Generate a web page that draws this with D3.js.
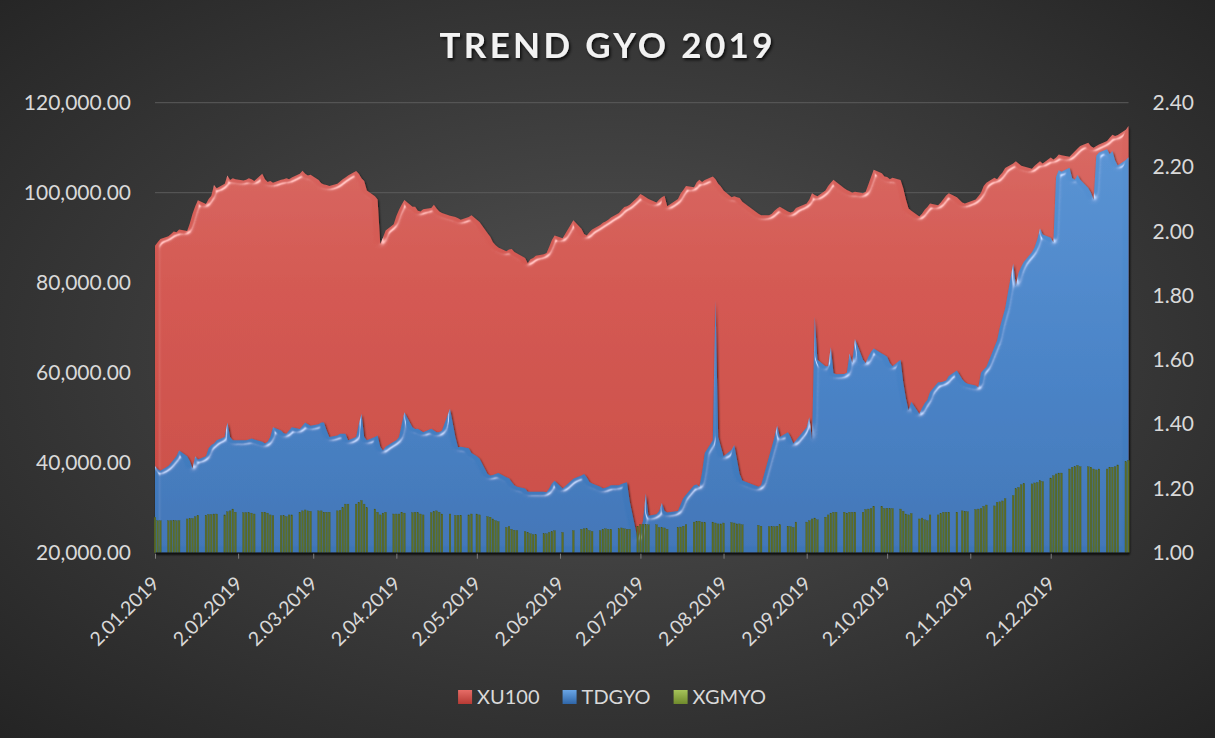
<!DOCTYPE html>
<html>
<head>
<meta charset="utf-8">
<script src="https://cdn.jsdelivr.net/npm/d3@7"></script>
<style>
  html, body { margin: 0; padding: 0; background: #2a2a2a; }
  svg { display: block; font-family: Lato, "Open Sans", sans-serif; }
</style>
</head>
<body>
<div id="chart"></div>
<script>

// Data ----------------------------------------------------------------------

// trading days of 2019, one list per month
var tradingDays = [
  [2,3,4,7,8,9,10,11,14,15,16,17,18,21,22,23,24,25,28,29,30,31],
  [1,4,5,6,7,8,11,12,13,14,15,18,19,20,21,22,25,26,27,28],
  [1,4,5,6,7,8,11,12,13,14,15,18,19,20,21,22,25,26,27,28,29],
  [1,2,3,4,5,8,9,10,11,12,15,16,17,18,19,22,24,25,26,29,30],
  [2,3,6,7,8,9,10,13,14,15,16,17,20,21,22,23,24,27,28,29,30,31],
  [3,7,10,11,12,13,14,17,18,19,20,21,24,25,26,27,28],
  [1,2,3,4,5,8,9,10,11,12,16,17,18,19,22,23,24,25,26,29,30,31],
  [1,2,5,6,7,8,9,15,16,19,20,21,22,23,26,27,28,29],
  [2,3,4,5,6,9,10,11,12,13,16,17,18,19,20,23,24,25,26,27,30],
  [1,2,3,4,7,8,9,10,11,14,15,16,17,18,21,22,23,24,25,28,30,31],
  [1,4,5,6,7,8,11,12,13,14,15,18,19,20,21,22,25,26,27,28,29],
  [2,3,4,5,6,9,10,11,12,13,16,17,18,19,20,23,24,25,26,27,30,31]
];

var seriesNames = ["XU100", "TDGYO", "XGMYO"];

// XU100 (left axis)
var xu100 = [
  88200,89000,89700,90300,90800,91400,91200,91800,91500,93200,95300,97000,98300,97500,98600,99300,101700,101000,102000,103800,102800,103200,
  103000,102700,102900,103200,103000,102600,104200,103000,102400,102600,102200,102900,103000,103200,103000,103400,104200,104900,104200,103800,
  104000,102800,102100,101800,101700,101500,102000,102500,103000,103400,103800,104800,104200,103200,102600,100500,99200,98500,88600,90000,91600,
  93000,94800,96200,97400,98400,96900,96900,96000,95800,96300,96600,97300,96500,95800,95500,94900,94600,94300,94000,94600,95000,
  94000,93500,91000,90200,89000,88300,87800,87000,87400,87500,86800,86500,85500,84300,85200,85500,86000,86300,86600,88000,89500,90500,
  89900,93900,92000,90800,90500,91200,91800,92800,93300,93600,94000,94500,95500,96200,96800,97000,97300,
  99000,99700,99400,99000,98600,97800,98500,99000,99300,97000,98600,99800,100600,101500,101200,102300,102900,102400,102800,103600,103000,102000,
  101400,100500,99000,99200,99000,98800,98000,95300,95000,95000,95300,96000,96500,96900,95800,95600,95800,96600,
  97600,98500,99900,99500,99200,100500,101500,102200,102900,102400,101000,100600,100300,100000,100200,99900,100200,101800,103500,105100,104300,
  103600,103500,103000,103300,102800,101000,98500,96500,96000,94700,95300,96200,96800,97600,97200,97800,98600,99400,99900,99000,97800,97600,
  97800,98500,99200,100000,101500,102200,103300,103000,103800,104500,105500,106500,107000,106500,106000,105800,105300,106000,106500,107000,106500,
  107800,107400,107800,108500,108300,108000,108600,109200,109800,110400,111100,110300,110000,110400,110700,111500,112200,112900,112600,112800,114000,114800
];

// TDGYO (right axis)
var tdgyo = [
  1.27,1.26,1.255,1.27,1.28,1.29,1.30,1.318,1.30,1.285,1.262,1.30,1.29,1.30,1.325,1.335,1.34,1.35,1.36,1.405,1.36,1.35,
  1.35,1.35,1.35,1.352,1.355,1.352,1.345,1.34,1.345,1.36,1.39,1.38,1.372,1.37,1.38,1.39,1.385,1.395,1.405,1.40,
  1.395,1.40,1.405,1.405,1.38,1.36,1.365,1.37,1.37,1.37,1.35,1.36,1.40,1.432,1.36,1.35,1.36,1.365,1.33,1.318,1.33,
  1.345,1.35,1.36,1.40,1.437,1.39,1.385,1.386,1.38,1.375,1.386,1.38,1.375,1.375,1.38,1.448,1.36,1.328,1.33,1.325,1.31,
  1.30,1.293,1.245,1.24,1.242,1.245,1.248,1.235,1.232,1.22,1.21,1.205,1.20,1.19,1.19,1.19,1.19,1.19,1.188,1.20,1.215,1.224,
  1.20,1.23,1.24,1.245,1.235,1.22,1.215,1.205,1.20,1.202,1.205,1.21,1.21,1.214,1.217,1.219,1.16,
  1.04,1.07,1.10,1.185,1.115,1.12,1.13,1.155,1.13,1.125,1.13,1.15,1.17,1.18,1.21,1.212,1.205,1.25,1.31,1.35,1.786,1.36,
  1.33,1.30,1.32,1.335,1.29,1.245,1.225,1.205,1.21,1.30,1.33,1.36,1.396,1.36,1.375,1.36,1.34,1.35,
  1.39,1.422,1.35,1.735,1.60,1.58,1.58,1.64,1.558,1.555,1.556,1.56,1.62,1.59,1.665,1.60,1.59,1.61,1.625,1.635,1.62,
  1.615,1.61,1.59,1.58,1.60,1.53,1.48,1.443,1.47,1.432,1.45,1.465,1.475,1.50,1.53,1.53,1.533,1.536,1.55,1.567,1.54,1.53,
  1.526,1.52,1.515,1.56,1.57,1.578,1.64,1.66,1.70,1.73,1.76,1.90,1.83,1.87,1.89,1.905,1.935,1.95,1.975,2.009,1.99,
  1.98,1.965,2.17,2.19,2.185,2.198,2.165,2.16,2.175,2.16,2.135,2.12,2.098,2.235,2.245,2.255,2.24,2.25,2.22,2.205,2.222,2.23
];

// XGMYO (left axis, bars)
var xgmyo = [
  27900,27100,27100,27100,27100,27150,27100,27100,27500,27600,27600,28000,28300,28300,28500,28500,28600,28600,28400,29100,29300,29700,
  29000,28900,28900,28900,28800,28600,29000,29000,28800,28400,28200,28200,28200,28000,28400,28400,29000,29300,29500,29300,
  29200,29300,29300,29000,29000,29000,29300,29400,30000,30800,30800,30800,31200,31600,30800,30000,29700,29000,28400,28800,29000,
  28600,28600,28600,29000,28800,28900,29000,28900,28600,28400,28900,29200,29300,29000,28600,28600,28300,28300,28300,28400,28600,
  28600,28400,28000,27900,27500,27100,26900,25600,25800,25200,25000,24900,24700,24500,24200,24000,24000,24200,24200,24500,24700,24900,
  24500,24900,25200,25300,25300,24900,24700,24900,25200,25300,25200,25200,25300,25500,25300,25200,25200,
  25900,26300,26300,26300,26200,26200,25600,25600,25500,25200,25600,25700,25900,26200,26800,27000,27000,26800,26700,26800,26600,26400,
  26400,26600,26700,26600,26400,26400,26200,26100,25900,25800,25800,25800,25900,26200,25900,25800,25600,26800,
  26800,27100,27500,27700,27300,27900,28400,28800,29000,29000,29000,28800,29000,29000,29000,29000,29600,29700,29800,30300,30300,
  29800,29900,29800,29800,29700,29200,28600,28400,28700,27500,27700,27300,27100,28400,28400,28700,29000,29000,29000,29000,29300,29200,
  29100,29600,29700,29800,30300,30600,30400,31200,31300,31500,32000,32700,34200,34500,35100,35400,35300,35500,35600,36000,35800,
  36600,37100,37500,37700,37700,38600,39000,39100,39400,39100,39100,39000,38600,38400,38600,38600,39000,39000,39100,39500,40200,40500
];

var leftTicks = [20000, 40000, 60000, 80000, 100000, 120000];
var rightTicks = [1.0, 1.2, 1.4, 1.6, 1.8, 2.0, 2.2, 2.4];
var dateTicks = ["2.01.2019","2.02.2019","2.03.2019","2.04.2019","2.05.2019","2.06.2019",
                 "2.07.2019","2.08.2019","2.09.2019","2.10.2019","2.11.2019","2.12.2019"];


// Prepare data --------------------------------------------------------------

var dates = [];
tradingDays.forEach(function(days, m) {
  days.forEach(function(d) { dates.push(new Date(Date.UTC(2019, m, d))); });
});

if (dates.length !== xu100.length || dates.length !== tdgyo.length || dates.length !== xgmyo.length) {
  console.error("length mismatch", dates.length, xu100.length, tdgyo.length, xgmyo.length);
}

var data = dates.map(function(d, i) {
  return {date: d, xu: xu100[i], td: tdgyo[i], xg: xgmyo[i]};
});

function parseTick(s) {
  var p = s.split(".");
  return new Date(Date.UTC(+p[2], +p[1] - 1, +p[0]));
}


// Setup ---------------------------------------------------------------------

var W = 1215, H = 738;
var plot = {left: 155, right: 1128.5, top: 102.7, bottom: 552.7};

var x = d3.scaleUtc()
  .domain([dates[0], dates[dates.length - 1]])
  .range([plot.left, plot.right]);

var yL = d3.scaleLinear().domain([20000, 120000]).range([plot.bottom, plot.top]);
var yR = d3.scaleLinear().domain([1.0, 2.4]).range([plot.bottom, plot.top]);

var svg = d3.select("#chart").append("svg")
  .attr("width", W)
  .attr("height", H);

var defs = svg.append("defs");

var bg = defs.append("radialGradient").attr("id", "bg")
  .attr("cx", "50%").attr("cy", "48%").attr("r", "75%");
bg.append("stop").attr("offset", "0%").attr("stop-color", "#525252");
bg.append("stop").attr("offset", "100%").attr("stop-color", "#222222");

function vGrad(id, stops) {
  var g = defs.append("linearGradient").attr("id", id)
    .attr("gradientUnits", "userSpaceOnUse")
    .attr("x1", 0).attr("x2", 0).attr("y1", plot.top).attr("y2", plot.bottom);
  stops.forEach(function(s) {
    g.append("stop").attr("offset", s[0]).attr("stop-color", s[1]);
  });
}
vGrad("redFill", [["0%", "#d96a64"], ["40%", "#d3564f"], ["100%", "#c94a43"]]);
vGrad("blueFill", [["0%", "#5a95d5"], ["60%", "#4682c6"], ["100%", "#3d74b6"]]);

// bevel-ish lighting on the edges + shadow for the areas
var bevel = defs.append("filter").attr("id", "bevel")
  .attr("x", "-2%").attr("y", "-5%").attr("width", "104%").attr("height", "110%");
bevel.append("feGaussianBlur").attr("in", "SourceAlpha").attr("stdDeviation", 2.5).attr("result", "blur");
var spec = bevel.append("feSpecularLighting").attr("in", "blur")
  .attr("surfaceScale", 4).attr("specularConstant", 1.0).attr("specularExponent", 40)
  .attr("lighting-color", "#ffffff").attr("result", "spec");
spec.append("feDistantLight").attr("azimuth", 235).attr("elevation", 40);
bevel.append("feComposite").attr("in", "spec").attr("in2", "SourceAlpha").attr("operator", "in").attr("result", "specOut");
bevel.append("feComposite").attr("in", "SourceGraphic").attr("in2", "specOut")
  .attr("operator", "arithmetic").attr("k1", 0).attr("k2", 1).attr("k3", 0.45).attr("k4", 0).attr("result", "lit");
bevel.append("feDropShadow").attr("in", "lit").attr("dx", 1).attr("dy", 1.5)
  .attr("stdDeviation", 1.2).attr("flood-color", "#000").attr("flood-opacity", 0.7);

var titleShadow = defs.append("filter").attr("id", "tshadow");
titleShadow.append("feDropShadow").attr("dx", 1.5).attr("dy", 2)
  .attr("stdDeviation", 1.5).attr("flood-color", "#000").attr("flood-opacity", 0.8);

svg.append("rect")
  .attr("width", W).attr("height", H)
  .attr("fill", "url(#bg)");


// Title ---------------------------------------------------------------------

svg.append("text")
  .attr("x", 606)
  .attr("y", 58)
  .attr("text-anchor", "middle")
  .attr("font-size", 35)
  .attr("font-weight", "bold")
  .attr("fill", "#f2f2f2")
  .attr("textLength", 333)
  .attr("lengthAdjust", "spacing")
  .attr("filter", "url(#tshadow)")
  .text("TREND GYO 2019");


// Gridlines & axes ----------------------------------------------------------

svg.append("g")
  .attr("class", "grid")
  .selectAll("line")
  .data(leftTicks.slice(1))
  .enter().append("line")
  .attr("x1", plot.left).attr("x2", plot.right)
  .attr("y1", function(d) { return yL(d); })
  .attr("y2", function(d) { return yL(d); })
  .attr("stroke", "#5c5c5c")
  .attr("stroke-width", 1);

var axisL = svg.append("g")
  .attr("transform", "translate(" + plot.left + ",0)")
  .call(d3.axisLeft(yL).tickValues(leftTicks).tickFormat(d3.format(",.2f")).tickSize(0).tickPadding(24));

var axisR = svg.append("g")
  .attr("transform", "translate(" + plot.right + ",0)")
  .call(d3.axisRight(yR).tickValues(rightTicks).tickFormat(d3.format(".2f")).tickSize(0).tickPadding(24));

[axisL, axisR].forEach(function(a) {
  a.select(".domain").remove();
  a.selectAll("text")
    .attr("font-family", "Lato, 'Open Sans', sans-serif")
    .attr("font-size", 21)
    .attr("fill", "#d9d9d9");
});


// Series --------------------------------------------------------------------

var areaXU = d3.area()
  .x(function(d) { return x(d.date); })
  .y0(plot.bottom)
  .y1(function(d) { return yL(d.xu); });

var areaTD = d3.area()
  .x(function(d) { return x(d.date); })
  .y0(plot.bottom)
  .y1(function(d) { return yR(d.td); });

svg.append("path")
  .datum(data)
  .attr("d", areaXU)
  .attr("fill", "url(#redFill)")
  .attr("filter", "url(#bevel)");

svg.append("path")
  .datum(data)
  .attr("d", areaTD)
  .attr("fill", "url(#blueFill)")
  .attr("filter", "url(#bevel)");

var barW = 1.7;
svg.append("g")
  .attr("class", "bars")
  .selectAll("rect")
  .data(data)
  .enter().append("rect")
  .attr("x", function(d) { return x(d.date) - barW / 2; })
  .attr("y", function(d) { return yL(d.xg); })
  .attr("width", barW)
  .attr("height", function(d) { return yL(20000) - yL(d.xg); })
  .attr("fill", "#5e6f25")
  .attr("stroke", "#4a571c")
  .attr("stroke-width", 0.3);


// X axis --------------------------------------------------------------------

var axisX = svg.append("g")
  .attr("transform", "translate(0," + plot.bottom + ")")
  .call(d3.axisBottom(x)
    .tickValues(dateTicks.map(parseTick))
    .tickFormat(function(d, i) { return dateTicks[i]; })
    .tickSize(6)
    .tickSizeOuter(0));

axisX.select(".domain")
  .attr("stroke", "#111")
  .attr("stroke-width", 1.6);

axisX.selectAll(".tick line")
  .attr("stroke", "#7f7f7f")
  .attr("y1", 1);

axisX.selectAll("text")
  .attr("x", 0).attr("y", 0).attr("dy", 0)
  .attr("transform", "translate(5,32) rotate(-45)")
  .style("text-anchor", "end")
  .attr("font-family", "Lato, 'Open Sans', sans-serif")
  .attr("font-size", 19.5)
  .attr("fill", "#d9d9d9");


// Legend --------------------------------------------------------------------

var legendColors = [["#e66c66", "#b63a34"], ["#6aa6e6", "#2f66a8"], ["#a6c45a", "#6f8a2c"]];
legendColors.forEach(function(c, i) {
  var g = defs.append("linearGradient").attr("id", "lg" + i)
    .attr("x1", 0).attr("x2", 0).attr("y1", 0).attr("y2", 1);
  g.append("stop").attr("offset", "0%").attr("stop-color", c[0]);
  g.append("stop").attr("offset", "100%").attr("stop-color", c[1]);
});

var legend = svg.append("g").attr("class", "legend");
var lx = 0;
var items = legend.selectAll("g")
  .data(seriesNames)
  .enter().append("g");

items.append("rect")
  .attr("width", 14).attr("height", 14)
  .attr("y", -14)
  .attr("fill", function(d, i) { return "url(#lg" + i + ")"; });

items.append("text")
  .attr("x", 19)
  .attr("font-size", 20)
  .attr("fill", "#d9d9d9")
  .text(function(d) { return d; });

items.each(function() {
  var g = d3.select(this);
  g.attr("transform", "translate(" + lx + ",0)");
  lx += 19 + g.select("text").node().getComputedTextLength() + 23;
});
var legendW = lx - 23;
legend.attr("transform", "translate(" + (612 - legendW / 2) + ",704)");

</script>
</body>
</html>
